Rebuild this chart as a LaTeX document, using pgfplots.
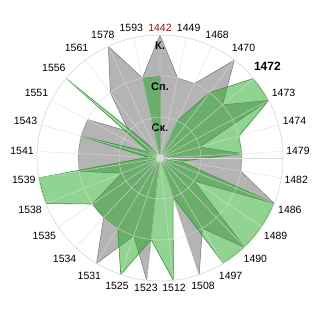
\documentclass[border=0pt]{standalone}
\usepackage{pgfplots}
\pgfplotsset{compat=1.18}
\usepgfplotslibrary{polar}
\usepackage{fontspec}
\setmainfont{Liberation Sans}
\definecolor{grayfill}{RGB}{180,180,180}
\definecolor{grayline}{RGB}{120,120,120}
\definecolor{greenfill}{RGB}{35,170,35}
\definecolor{greenline}{RGB}{50,150,50}
\definecolor{gridc}{RGB}{220,220,220}
\definecolor{darkred}{RGB}{140,20,20}
\begin{document}
\begin{tikzpicture}
\begin{polaraxis}[
  scale only axis, width=246pt, height=246pt,
  xmin=0, xmax=360, ymin=0, ymax=3,
  xtick={3.103,15.517,27.931,40.345,52.759,65.172,77.586,90,102.414,114.828,127.241,139.655,152.069,164.483,176.897,189.310,201.724,214.138,226.552,238.966,251.379,263.793,276.207,288.621,301.034,313.448,325.862,338.276,350.690},
  xticklabels={1479,1474,1473,{\bfseries\fontsize{12}{14}\selectfont 1472},1470,1468,1449,{\color{darkred}1442},1593,1578,1561,1556,1551,1543,1541,1539,1538,1535,1534,1531,1525,1523,1512,1508,1497,1490,1489,1486,1482},
  ytick={1,2,3}, yticklabels={},
  grid=major, major grid style={draw=gridc, line width=0.35pt},
  axis line style={draw=gridc, line width=0.5pt},
  tick style={draw=none},
  axis on top,
  xticklabel style={font=\fontsize{10.5}{12}\selectfont},
]
\addplot[draw=grayline, line width=0.5pt, fill=grayfill] coordinates {
(3.103,2) (15.517,1) (27.931,3) (40.345,2) (52.759,3) (65.172,2) (77.586,2) (90,3)
(102.414,2) (114.828,3) (127.241,2) (139.655,1) (152.069,2) (164.483,2) (176.897,2)
(189.310,2) (201.724,1) (214.138,2) (226.552,2) (238.966,3) (251.379,2) (263.793,3)
(276.207,0) (288.621,3) (301.034,2) (313.448,3) (325.862,1) (338.276,3) (350.690,2) (363.103,2)};
\addplot[draw=greenline, line width=0.6pt, fill=greenfill, fill opacity=0.5] coordinates {
(3.103,2) (15.517,2) (27.931,3) (40.345,3) (52.759,2) (65.172,1) (77.586,0) (90,2)
(102.414,2) (114.828,0) (127.241,0.3) (139.655,3) (152.069,0.3) (164.483,2) (176.897,0.3)
(189.310,3) (201.724,3) (214.138,2) (226.552,2) (238.966,2) (251.379,3) (263.793,2)
(276.207,3) (288.621,1) (301.034,3) (313.448,3) (325.862,3) (338.276,3) (350.690,0.5) (363.103,2)};
\coordinate (O) at (axis cs:0,0);
\node[font=\bfseries\fontsize{11}{12}\selectfont] at (axis cs:90,2.73) {К.};
\node[font=\bfseries\fontsize{11}{12}\selectfont] at (axis cs:90,1.73) {Сп.};
\node[font=\bfseries\fontsize{11}{12}\selectfont] at (axis cs:90,0.73) {Ск.};
\end{polaraxis}
\path (O) ++(-160pt,-162pt) rectangle ++(320pt,320pt);
\end{tikzpicture}
\end{document}
